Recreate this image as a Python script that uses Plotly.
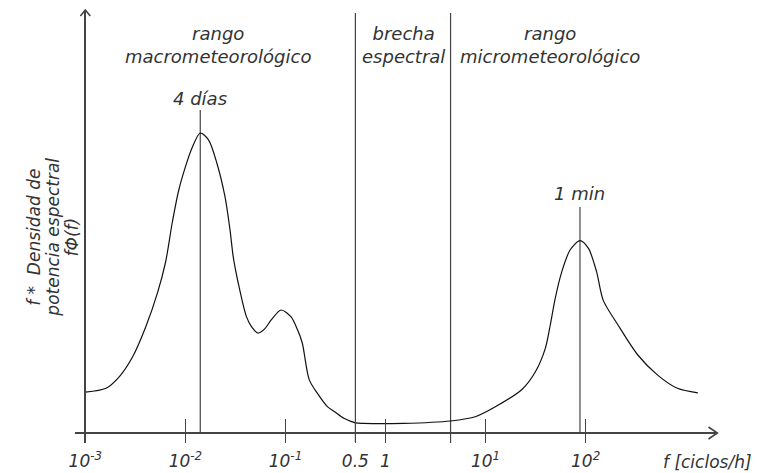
import numpy as np
import plotly.graph_objects as go

# ---------------- data ----------------
# frequency f [ciclos/h] and relative f*Phi(f) (peak at 4 días = 1)
freq = [0.001, 0.00161, 0.00219, 0.00297, 0.00402, 0.00525, 0.00634, 0.00738,
        0.00859, 0.0100, 0.01164, 0.01408, 0.01703, 0.02061, 0.02489, 0.02792,
        0.03008, 0.03373, 0.04083, 0.0461, 0.05321, 0.0620, 0.07211, 0.09057,
        0.1138, 0.1324, 0.1473, 0.1730, 0.2089, 0.2624, 0.3105, 0.3838, 0.5012,
        0.6055, 1.507, 4.47, 8.02, 12.65, 23.25, 31.49, 39.55, 44.33, 49.68,
        57.85, 69.94, 87.84, 106.4, 128.6, 149.7, 210.7, 332.4, 524.5, 827.6,
        1324.0]
power = [0.136, 0.149, 0.188, 0.254, 0.354, 0.466, 0.570, 0.700,
         0.810, 0.887, 0.950, 1.000, 0.977, 0.900, 0.787, 0.677,
         0.587, 0.500, 0.387, 0.353, 0.333, 0.347, 0.377, 0.410,
         0.387, 0.343, 0.300, 0.177, 0.132, 0.088, 0.071, 0.049, 0.034,
         0.032, 0.032, 0.040, 0.055, 0.088, 0.146, 0.204, 0.282, 0.360, 0.449,
         0.538, 0.610, 0.641, 0.616, 0.538, 0.443, 0.360, 0.260, 0.193, 0.149,
         0.134]

tick_vals = [0.001, 0.01, 0.1, 0.5, 1, 10, 100]
tick_text = ["10<sup>-3</sup>", "10<sup>-2</sup>", "10<sup>-1</sup>", "0.5", "1",
             "10<sup>1</sup>", "10<sup>2</sup>"]

# vertical reference lines: frequency, bottom, top (in power units)
peak_macro_f = 0.01408   # "4 días"
peak_micro_f = 87.84     # "1 min"
gap_lo_f = 0.5           # start of spectral gap
gap_hi_f = 4.47          # end of spectral gap
vlines = [
    (peak_macro_f, 0.0, 1.077),
    (gap_lo_f, -0.03, 1.40),
    (gap_hi_f, -0.063, 1.40),
    (peak_micro_f, 0.0, 0.753),
]

# page body has an 8px margin: figure drawn at (8, 8)
OFF = 8
W, H = 759 - OFF, 473 - OFF
FONT = "DejaVu Sans"
TXT = "#333333"
AX = "#444444"


def pxx(X):
    return (X - OFF) / W


def pxy(Y):
    return 1 - (Y - OFF) / H


fig = go.Figure()

for f, y0, y1 in vlines:
    fig.add_trace(go.Scatter(x=[f, f], y=[y0, y1], mode="lines",
                             line=dict(color="#444444", width=1.2),
                             hoverinfo="skip"))

fig.add_trace(go.Scatter(x=freq, y=power, mode="lines",
                         line=dict(color="#111111", width=1.2, shape="spline", smoothing=0.8),
                         hoverinfo="skip"))

# invisible trace for the overlay axis carrying the upward tick marks
fig.add_trace(go.Scatter(x=tick_vals, y=[0] * len(tick_vals), mode="markers",
                         marker=dict(opacity=0), xaxis="x2", hoverinfo="skip"))

x_dom = [pxx(69), pxx(717)]
x_rng = [-3.099, 3.317]
x_pos = pxy(433)

fig.update_layout(
    width=W, height=H,
    margin=dict(l=0, r=0, t=0, b=0),
    paper_bgcolor="white", plot_bgcolor="white",
    showlegend=False,
    xaxis=dict(type="log", range=x_rng, domain=x_dom, anchor="free", position=x_pos,
               showline=True, linecolor=AX, linewidth=1.5, showgrid=False, zeroline=False,
               tickvals=tick_vals, ticktext=tick_text, ticks="outside", ticklen=9,
               tickwidth=1.2, tickcolor=AX, ticklabelstandoff=4,
               tickfont=dict(family=FONT, size=17, color=TXT, style="italic")),
    xaxis2=dict(type="log", range=x_rng, domain=x_dom, anchor="free", position=x_pos,
                overlaying="x", showline=False, showgrid=False, zeroline=False,
                tickvals=tick_vals, ticks="inside", ticklen=14, tickwidth=1.2,
                tickcolor=AX, showticklabels=False),
    yaxis=dict(range=[-10 / 300, 423 / 300], domain=[pxy(443), pxy(10)],
               anchor="free", position=pxx(79), showline=True, linecolor=AX, linewidth=1.5,
               showgrid=False, zeroline=False, showticklabels=False, ticks=""),
)


# arrow heads (open chevrons)
def pt(X, Y):
    return f"{pxx(X):.5f},{pxy(Y):.5f}"


fig.add_shape(type="path", xref="paper", yref="paper",
              path=f"M {pt(708, 427)} L {pt(717, 433)} L {pt(708, 439)}",
              line=dict(color=AX, width=1.6))
fig.add_shape(type="path", xref="paper", yref="paper",
              path=f"M {pt(74, 16)} L {pt(79, 10)} L {pt(84, 16)}",
              line=dict(color=AX, width=1.6))


def label(text, X, Y, size=18, angle=0):
    fig.add_annotation(text=text, x=pxx(X), y=pxy(Y), xref="paper", yref="paper",
                       xanchor="center", yanchor="middle",
                       showarrow=False, textangle=angle, align="center",
                       font=dict(family=FONT, size=size, color=TXT, style="italic"))


label("rango<br>macrometeorológico", 213, 45)
label("brecha<br>espectral", 400, 45)
label("rango<br>micrometeorológico", 548, 45)
label("f [ciclos/h]", 707, 462, size=17)
label("f *  Densidad de", 27, 237, size=17, angle=-90)
label("potencia espectral", 46, 237, size=17, angle=-90)
label("fΦ(f)", 66, 237, size=17, angle=-90)

for f, txt, Y in [(peak_macro_f, "4 días", 98), (peak_micro_f, "1 min", 193)]:
    fig.add_annotation(text=txt, x=np.log10(f), y=pxy(Y), xref="x", yref="paper",
                       xanchor="center", yanchor="middle", showarrow=False,
                       font=dict(family=FONT, size=18, color=TXT, style="italic"))

fig.write_html("out.html")
